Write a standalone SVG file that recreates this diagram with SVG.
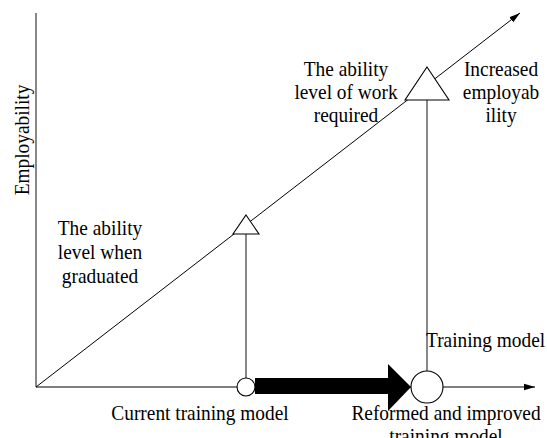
<svg xmlns="http://www.w3.org/2000/svg" width="547" height="438" viewBox="0 0 547 438">
  <style>
    .lbl { font-family: "Liberation Serif", "Times New Roman", serif; font-size: 22px; fill: #000; }
    .mid { text-anchor: middle; }
    .thin { stroke: #000; stroke-width: 1; fill: none; }
    .guide { stroke: #555; stroke-width: 1.4; fill: none; }
    .shape { stroke: #000; stroke-width: 1.1; fill: #fff; }
  </style>
  <defs>
    <marker id="tip" markerUnits="userSpaceOnUse" markerWidth="12" markerHeight="8" refX="11" refY="4" orient="auto">
      <path d="M0,0.8 L11,4 L0,7.2 z" fill="#000"/>
    </marker>
  </defs>
  <rect width="547" height="438" fill="#fff"/>

  <!-- axes; labels use a narrowed serif face -->
  <g id="axes">
    <line class="guide" x1="36" y1="13" x2="36" y2="387"/>
    <line class="thin" x1="36" y1="387" x2="535" y2="387" marker-end="url(#tip)"/>
    <text class="lbl mid" transform="translate(29,140) rotate(-90) scale(0.88,1)">Employability</text>
  </g>

  <!-- connectors -->
  <g id="connectors">
    <line class="thin" x1="36" y1="387" x2="520" y2="13" marker-end="url(#tip)"/>
    <line class="guide" x1="246" y1="234" x2="246" y2="378"/>
    <line class="guide" x1="427" y1="100" x2="427" y2="371"/>
    <polygon points="255,378 388,378 388,364 411,387 388,411 388,394 255,394" fill="#000"/>
  </g>

  <!-- ability level at graduation -->
  <g id="graduate-level">
    <polygon class="shape" points="246,215 259,234 233,234"/>
    <text class="lbl mid" transform="translate(100,235) scale(0.88,1)">The ability</text>
    <text class="lbl mid" transform="translate(100,259) scale(0.88,1)">level when</text>
    <text class="lbl mid" transform="translate(100,283) scale(0.88,1)">graduated</text>
  </g>

  <!-- ability level required by work -->
  <g id="work-level">
    <polygon class="shape" points="427,67 449,100 405,100"/>
    <text class="lbl mid" transform="translate(346,76) scale(0.88,1)">The ability</text>
    <text class="lbl mid" transform="translate(346,99) scale(0.88,1)">level of work</text>
    <text class="lbl mid" transform="translate(346,122) scale(0.88,1)">required</text>
  </g>

  <!-- trend label -->
  <g id="increase">
    <text class="lbl mid" transform="translate(501,76) scale(0.88,1)">Increased</text>
    <text class="lbl mid" transform="translate(501,99) scale(0.88,1)">employab</text>
    <text class="lbl mid" transform="translate(501,122) scale(0.88,1)">ility</text>
  </g>

  <!-- current training model -->
  <g id="current-model">
    <circle class="shape" cx="246" cy="387" r="9"/>
    <text class="lbl mid" transform="translate(200,420) scale(0.88,1)">Current training model</text>
  </g>

  <!-- reformed training model -->
  <g id="reformed-model">
    <circle class="shape" cx="427" cy="387" r="16"/>
    <text class="lbl" transform="translate(426,347) scale(0.88,1)">Training model</text>
    <text class="lbl mid" transform="translate(446,420) scale(0.88,1)">Reformed and improved</text>
    <text class="lbl mid" transform="translate(446,443) scale(0.88,1)">training model</text>
  </g>
</svg>
